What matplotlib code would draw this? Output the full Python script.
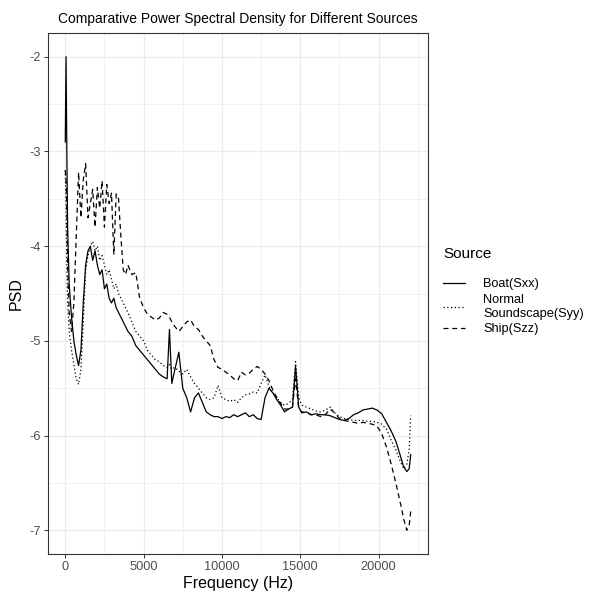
import matplotlib
matplotlib.use('Agg')
import matplotlib.pyplot as plt
from matplotlib.ticker import MultipleLocator

plt.rcParams['font.family'] = ['Liberation Sans', 'DejaVu Sans']

# частотная сетка (Гц)
freq = [0, 50, 100, 150, 250, 400, 550, 700, 850, 1000,
        1150, 1300, 1450, 1600, 1750, 1900, 2050, 2200, 2350, 2500,
        2650, 2800, 2950, 3100, 3250, 3400, 3550, 3700, 3850, 4000,
        4250, 4500, 4750, 5000, 5250, 5500, 5750, 6000, 6250, 6500,
        6650, 6800, 7000, 7250, 7500, 7750, 8000, 8250, 8500, 8750,
        9000, 9250, 9500, 9750, 10000, 10250, 10500, 10750, 11000, 11250,
        11500, 11750, 12000, 12250, 12500, 12750, 13000, 13250, 13500, 13750,
        14000, 14250, 14500, 14700, 14900, 15100, 15400, 15700, 16000, 16300,
        16600, 16900, 17200, 17500, 17800, 18100, 18400, 18700, 19000, 19300,
        19600, 19900, 20200, 20500, 20800, 21100, 21400, 21600, 21800, 21950,
        22050]

# Boat(Sxx)
boat = [-2.9, -2.0, -3.0, -3.8, -4.4, -4.75, -5.0, -5.15, -5.26, -5.1,
        -4.6, -4.2, -4.05, -4.0, -4.15, -4.05, -4.2, -4.3, -4.25, -4.45,
        -4.4, -4.55, -4.6, -4.55, -4.65, -4.7, -4.75, -4.8, -4.85, -4.9,
        -4.95, -5.05, -5.1, -5.15, -5.2, -5.25, -5.3, -5.35, -5.38, -5.4,
        -4.88, -5.45, -5.3, -5.12, -5.5, -5.6, -5.75, -5.6, -5.55, -5.65,
        -5.75, -5.78, -5.8, -5.8, -5.82, -5.8, -5.81, -5.78, -5.8, -5.78,
        -5.76, -5.8, -5.78, -5.82, -5.83, -5.6, -5.5, -5.55, -5.62, -5.68,
        -5.75, -5.72, -5.7, -5.27, -5.7, -5.76, -5.75, -5.78, -5.77, -5.78,
        -5.78, -5.79, -5.81, -5.83, -5.84, -5.82, -5.78, -5.76, -5.73, -5.72,
        -5.71, -5.73, -5.77, -5.86, -5.95, -6.06, -6.22, -6.33, -6.38, -6.35,
        -6.2]

# Normal Soundscape(Syy)
normal = [-3.2, -3.6, -4.2, -4.6, -4.9, -5.1, -5.25, -5.4, -5.46, -5.3,
          -4.8, -4.25, -4.1, -4.0, -3.95, -4.05, -4.0, -4.15, -4.1, -4.2,
          -4.3, -4.25, -4.35, -4.45, -4.4, -4.5, -4.55, -4.6, -4.65, -4.7,
          -4.8, -4.9, -4.95, -5.0, -5.1, -5.15, -5.2, -5.22, -5.26, -5.28,
          -5.25, -5.3, -5.28, -5.32, -5.35, -5.3, -5.38, -5.45, -5.5, -5.55,
          -5.6, -5.62, -5.6, -5.47, -5.6, -5.62, -5.64, -5.62, -5.65, -5.6,
          -5.57, -5.56, -5.54, -5.55, -5.45, -5.36, -5.48, -5.55, -5.6, -5.65,
          -5.68, -5.66, -5.62, -5.22, -5.6, -5.68, -5.7, -5.72, -5.74, -5.75,
          -5.73, -5.7, -5.76, -5.8, -5.82, -5.83, -5.84, -5.84, -5.84, -5.85,
          -5.85, -5.86, -5.88, -5.93, -6.05, -6.15, -6.28, -6.35, -6.3, -6.15,
          -5.79]

# Ship(Szz)
ship = [-3.2, -3.3, -3.6, -4.2, -4.7, -4.9, -4.6, -3.9, -3.22, -3.7,
        -3.3, -3.13, -3.7, -3.55, -3.4, -3.8, -3.38, -3.6, -3.31, -3.8,
        -3.35, -3.55, -3.44, -4.09, -3.45, -3.5, -3.9, -4.25, -4.3, -4.2,
        -4.3, -4.28, -4.55, -4.65, -4.72, -4.75, -4.78, -4.76, -4.7, -4.72,
        -4.75, -4.8, -4.85, -4.9, -4.85, -4.8, -4.78, -4.85, -4.88, -4.95,
        -5.0, -5.05, -5.2, -5.28, -5.3, -5.33, -5.36, -5.4, -5.42, -5.33,
        -5.36, -5.34, -5.3, -5.27, -5.3, -5.35, -5.42, -5.52, -5.6, -5.66,
        -5.72, -5.72, -5.7, -5.4, -5.72, -5.75, -5.76, -5.78, -5.78, -5.8,
        -5.78, -5.72, -5.76, -5.82, -5.84, -5.85, -5.86, -5.87, -5.86, -5.87,
        -5.88, -5.9, -5.98, -6.12, -6.3, -6.5, -6.72, -6.88, -7.0, -6.95,
        -6.8]

fig = plt.figure(figsize=(5.9, 5.97), dpi=100)
ax = fig.add_axes([48/590, 1 - 554/597, 380/590, 521/597])

ax.plot(freq, boat, color='black', linewidth=0.9, linestyle='-', label='Boat(Sxx)')
ax.plot(freq, normal, color='black', linewidth=0.9, linestyle=(0, (1, 2)),
        label='Normal\nSoundscape(Syy)')
ax.plot(freq, ship, color='black', linewidth=0.9, linestyle=(0, (4, 3)), label='Ship(Szz)')

ax.set_xlim(-1102, 23152)
ax.set_ylim(-7.25, -1.75)
ax.xaxis.set_major_locator(MultipleLocator(5000))
ax.xaxis.set_minor_locator(MultipleLocator(2500))
ax.yaxis.set_major_locator(MultipleLocator(1))
ax.yaxis.set_minor_locator(MultipleLocator(0.5))
ax.set_yticks([-7, -6, -5, -4, -3, -2], ['-7', '-6', '-5', '-4', '-3', '-2'])

# сетка как в theme_bw
ax.grid(which='major', color='#ebebeb', linewidth=0.9)
ax.grid(which='minor', color='#ebebeb', linewidth=0.5)
ax.set_axisbelow(True)
for s in ax.spines.values():
    s.set_color('#333333')
    s.set_linewidth(0.8)
ax.tick_params(which='major', length=3, width=0.7, color='#333333',
               labelcolor='#4d4d4d', labelsize=9.2, pad=2)
ax.tick_params(which='minor', length=0)

ax.set_title('Comparative Power Spectral Density for Different Sources',
             fontsize=10.0, pad=7)
ax.set_xlabel('Frequency (Hz)', fontsize=11.5, labelpad=2)
ax.set_ylabel('PSD', fontsize=11.5, labelpad=4)

leg = ax.legend(loc='upper left', bbox_to_anchor=(428/590, 1 - 232/597),
                bbox_transform=fig.transFigure, frameon=False, title='Source',
                fontsize=9.2, title_fontsize=11, handlelength=1.7,
                handletextpad=1.4, labelspacing=0.3, alignment='left',
                borderpad=1.2, borderaxespad=0)
leg._legend_box.sep = 12  # отступ между заголовком легенды и строками

fig.savefig('out.png', dpi=100)
